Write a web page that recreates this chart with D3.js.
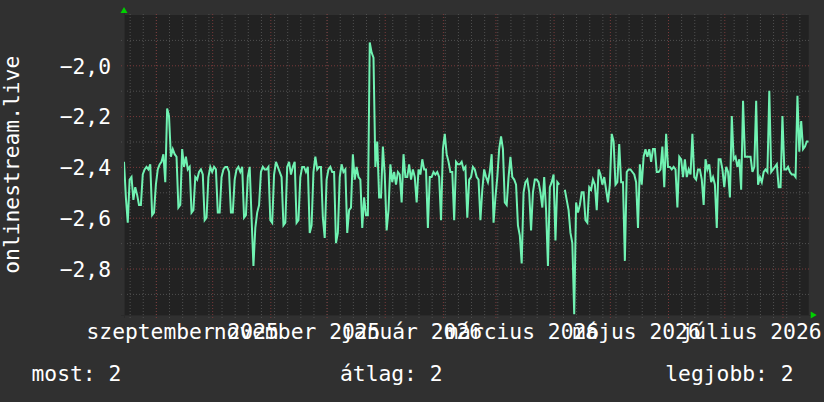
<!DOCTYPE html>
<html><head><meta charset="utf-8">
<script src="https://cdn.jsdelivr.net/npm/d3@7"></script>
<style>
html,body{margin:0;padding:0;background:#303030;}
svg{display:block;}
text{font-family:"DejaVu Sans Mono",monospace;}
</style></head><body>
<svg id="c" width="824" height="402"></svg>
<script>
const startDate = "2025-08-15";
const endDate = "2026-08-15";
// daily values starting at startDate (null = missing)
const values = [
-2.38,-2.52,-2.62,-2.45,-2.44,-2.53,-2.48,-2.51,-2.55,-2.55,-2.43,-2.41,-2.40,-2.41,
-2.39,-2.59,-2.58,-2.47,-2.41,-2.39,-2.38,-2.35,-2.46,-2.17,-2.20,-2.36,-2.33,-2.35,
-2.36,-2.56,-2.55,-2.33,-2.40,-2.36,-2.41,-2.40,-2.58,-2.57,-2.44,-2.45,-2.42,-2.41,
-2.43,-2.61,-2.60,-2.44,-2.40,-2.42,-2.40,-2.41,-2.58,-2.58,-2.44,-2.41,-2.40,-2.40,
-2.42,-2.58,-2.58,-2.45,-2.41,-2.40,-2.42,-2.40,-2.60,-2.59,-2.44,-2.40,-2.60,-2.79,
-2.64,-2.58,-2.55,-2.42,-2.40,-2.41,-2.41,-2.40,-2.61,-2.62,-2.43,-2.38,-2.40,-2.42,
-2.44,-2.63,-2.62,-2.40,-2.38,-2.43,-2.40,-2.38,-2.62,-2.61,-2.44,-2.40,-2.40,-2.42,
-2.40,-2.66,-2.63,-2.42,-2.36,-2.41,-2.40,-2.40,-2.60,-2.68,-2.45,-2.41,-2.40,-2.42,
-2.42,-2.70,-2.66,-2.44,-2.39,-2.42,-2.41,-2.66,-2.57,-2.56,-2.35,-2.45,-2.40,-2.44,
-2.45,-2.64,-2.52,-2.59,-2.59,-1.91,-1.95,-1.97,-2.40,-2.30,-2.52,-2.52,-2.32,-2.43,
-2.65,-2.57,-2.39,-2.46,-2.42,-2.47,-2.42,-2.43,-2.54,-2.35,-2.44,-2.44,-2.39,-2.45,
-2.41,-2.44,-2.54,-2.41,-2.43,-2.37,-2.41,-2.41,-2.64,-2.44,-2.44,-2.42,-2.43,-2.42,
-2.44,-2.61,-2.33,-2.27,-2.35,-2.38,-2.42,-2.42,-2.61,-2.38,-2.39,-2.39,-2.38,-2.41,
-2.40,-2.60,-2.45,-2.44,-2.40,-2.41,-2.44,-2.45,-2.61,-2.49,-2.41,-2.44,-2.46,-2.42,
-2.35,-2.62,-2.52,-2.44,-2.33,-2.28,-2.33,-2.54,-2.55,-2.44,-2.36,-2.44,-2.45,-2.47,
-2.63,-2.67,-2.78,-2.50,-2.46,-2.45,-2.50,-2.65,-2.50,-2.45,-2.45,-2.46,-2.50,-2.56,
-2.44,-2.57,-2.79,-2.48,-2.46,-2.43,-2.69,-2.46,-2.47,null,null,-2.49,-2.53,-2.57,
-2.66,-2.70,-2.98,-2.54,-2.58,-2.55,-2.50,-2.50,-2.61,-2.62,-2.48,-2.49,-2.45,-2.47,
-2.57,-2.41,-2.43,-2.47,-2.44,-2.49,-2.54,-2.47,-2.27,-2.30,-2.47,-2.46,-2.31,-2.46,
-2.46,-2.77,-2.42,-2.41,-2.41,-2.42,-2.43,-2.46,-2.64,-2.39,-2.47,-2.36,-2.33,-2.36,
-2.33,-2.38,-2.33,-2.33,-2.42,-2.42,-2.41,-2.32,-2.48,-2.27,-2.40,-2.40,-2.41,-2.40,
-2.41,-2.56,-2.36,-2.37,-2.44,-2.37,-2.44,-2.41,-2.43,-2.27,-2.44,-2.45,-2.41,-2.41,
-2.45,-2.55,-2.37,-2.41,-2.39,-2.46,-2.44,-2.47,-2.64,-2.37,-2.37,-2.41,-2.48,-2.40,
-2.42,-2.52,-2.20,-2.37,-2.36,-2.40,-2.37,-2.49,-2.14,-2.36,-2.36,-2.36,-2.36,-2.42,
-2.40,-2.14,-2.47,-2.44,-2.46,-2.42,-2.41,-2.42,-2.10,-2.42,-2.41,-2.40,-2.39,-2.48,
-2.48,-2.20,-2.41,-2.41,-2.40,-2.42,-2.43,-2.43,-2.44,-2.12,-2.34,-2.22,-2.33,-2.32,
-2.30,-2.30
];
const yMajorTicks = [-2.0,-2.2,-2.4,-2.6,-2.8];
const yMinorTicks = [-1.9,-2.1,-2.3,-2.5,-2.7,-2.9];
const yDomain = [-3.0,-1.8];
const xLabelDates = ["2025-09-15","2025-11-15","2026-01-15","2026-03-15","2026-05-15","2026-07-15"];
const xLabelTexts = ["szeptember 2025","november 2025","január 2026","március 2026","május 2026","július 2026"];
const yTitle = "onlinestream.live";
const legendTexts = ["most: 2","átlag: 2","legjobb: 2"];

const W = 824, H = 402;
const plot = {left:124, right:808.7, top:14.5, bottom:315};
const FONT = 21.3;

const svg = d3.select("#c");
svg.append("rect").attr("width",W).attr("height",H).attr("fill","#303030");

const parse = d3.utcParse("%Y-%m-%d");
const t0 = parse(startDate), t1 = parse(endDate);
const x = d3.scaleUtc().domain([t0,t1]).range([plot.left, plot.right]);
const y = d3.scaleLinear().domain(yDomain).range([319.3, 14.5]);

const data = values.map((v,i)=>({date:d3.utcDay.offset(t0,i), v}));

// plot background
svg.append("rect").attr("x",plot.left).attr("y",15)
  .attr("width",plot.right-plot.left).attr("height",plot.bottom-15)
  .attr("fill","#222222");

const fmtDec = d3.formatLocale({decimal:",",thousands:" ",grouping:[3],currency:["","Ft"]}).format(".1f");

// minor vertical grid (weekly)
const weeks = d3.utcMonday.range(t0, t1);
const months = d3.utcMonth.range(t0, t1);
const gMinX = svg.append("g").attr("transform",`translate(0,${plot.bottom+3})`)
  .call(d3.axisBottom(x).tickValues(weeks).tickSize(-(plot.bottom+3-13)).tickFormat(""));
gMinX.select(".domain").remove();
gMinX.selectAll("line").attr("stroke","#505050").attr("stroke-dasharray","1,2");
const gMajX = svg.append("g").attr("transform",`translate(0,${plot.bottom+3})`)
  .call(d3.axisBottom(x).tickValues(months).tickSize(-(plot.bottom+3-13)).tickFormat(""));
gMajX.select(".domain").remove();
gMajX.selectAll("line").attr("stroke","#7a3a3a").attr("stroke-dasharray","1,2");

const gMinY = svg.append("g").attr("transform",`translate(${plot.left-3},0)`)
  .call(d3.axisLeft(y).tickValues(yMinorTicks).tickSize(-(plot.right+2-plot.left+3)).tickFormat(""));
gMinY.select(".domain").remove();
gMinY.selectAll("line").attr("stroke","#505050").attr("stroke-dasharray","1,2");
const gMajY = svg.append("g").attr("transform",`translate(${plot.left-3},0)`)
  .call(d3.axisLeft(y).tickValues(yMajorTicks).tickSize(-(plot.right+2-plot.left+3)).tickFormat(""));
gMajY.select(".domain").remove();
gMajY.selectAll("line").attr("stroke","#7a3a3a").attr("stroke-dasharray","1,2");

// axis lines
svg.append("line").attr("x1",plot.left-3).attr("x2",plot.right+2).attr("y1",plot.bottom+0.5).attr("y2",plot.bottom+0.5).attr("stroke","#2a2a2a");
svg.append("line").attr("x1",plot.left+0.5).attr("x2",plot.left+0.5).attr("y1",13).attr("y2",plot.bottom+3).attr("stroke","#2a2a2a");

// data line
const line = d3.line().defined(d=>d.v!==null).x(d=>x(d.date)).y(d=>y(d.v));
svg.append("clipPath").attr("id","clip").append("rect")
  .attr("x",plot.left).attr("y",14).attr("width",plot.right-plot.left).attr("height",plot.bottom-14);
svg.append("path").datum(data).attr("clip-path","url(#clip)")
  .attr("d",line).attr("fill","none").attr("stroke","#70f2b2").attr("stroke-width",2)
  .attr("stroke-linejoin","miter");

// y labels
const gYL = svg.append("g").attr("transform",`translate(111,0)`)
  .call(d3.axisLeft(y).tickValues(yMajorTicks).tickSize(0).tickPadding(0).tickFormat(d=>fmtDec(d)));
gYL.select(".domain").remove();
gYL.selectAll("text").attr("fill","#ffffff").attr("font-size",FONT)
  .attr("font-family","'DejaVu Sans Mono',monospace").attr("dy","0.37em");

// x labels
const gXL = svg.append("g").attr("transform",`translate(0,${plot.bottom})`)
  .call(d3.axisBottom(x).tickValues(xLabelDates.map(parse)).tickSize(0).tickPadding(0)
    .tickFormat((d,i)=>xLabelTexts[i]));
gXL.select(".domain").remove();
gXL.selectAll("text").attr("fill","#ffffff").attr("font-size",FONT)
  .attr("font-family","'DejaVu Sans Mono',monospace").attr("dy",null).attr("y",23.5);

// y title
svg.append("text").attr("transform",`translate(19,${(plot.top+plot.bottom)/2}) rotate(-90)`)
  .attr("text-anchor","middle").attr("fill","#ffffff").attr("font-size",FONT).text(yTitle);

// legend
const legX = [31.5, 340, 793.5];
const legA = ["start","start","end"];
svg.selectAll(".leg").data(legendTexts).enter().append("text")
  .attr("x",(d,i)=>legX[i]).attr("y",381).attr("text-anchor",(d,i)=>legA[i])
  .attr("fill","#ffffff").attr("font-size",FONT).text(d=>d);

// arrows
svg.append("path").attr("d",`M${plot.left-3.5},13 L${plot.left+3.5},13 L${plot.left},7 Z`).attr("fill","#00d000");
svg.append("path").attr("d",`M${plot.right+2},${plot.bottom-3.5} L${plot.right+2},${plot.bottom+3.5} L${plot.right+8},${plot.bottom} Z`).attr("fill","#00d000");
</script>
</body></html>
